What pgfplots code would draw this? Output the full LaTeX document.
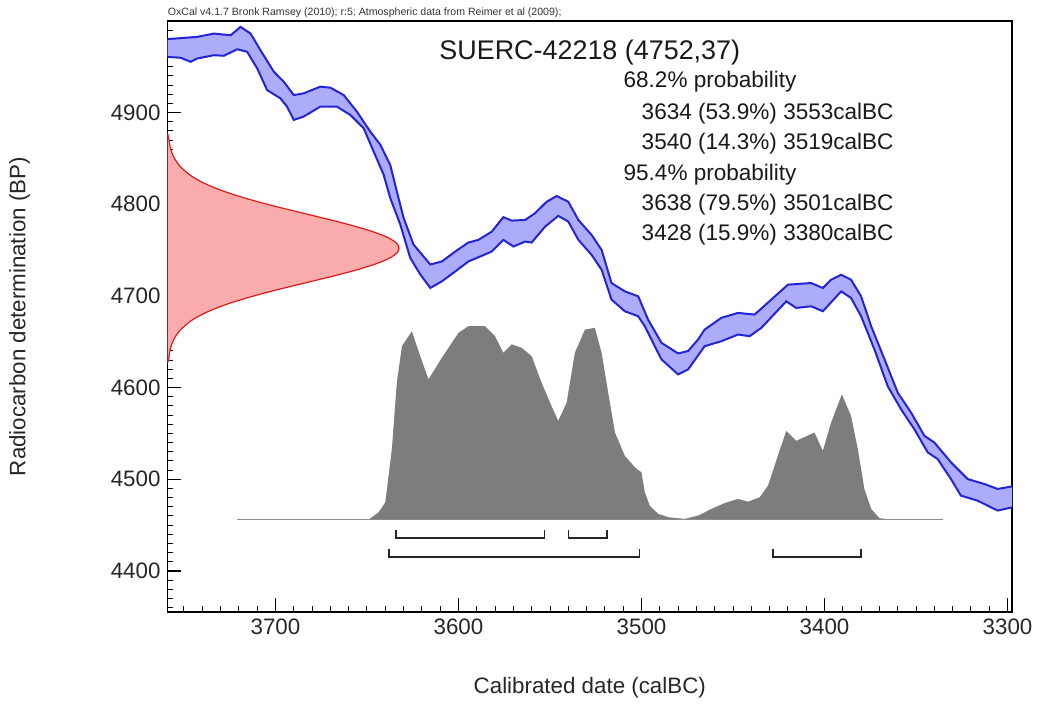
\documentclass[border=0pt]{standalone}
\usepackage{fontspec}
\setmainfont{Liberation Sans}
\usepackage{pgfplots}
\usepackage{pgfplotstable}
\usepgfplotslibrary{fillbetween}
\pgfplotsset{compat=1.18}

\definecolor{bandfill}{RGB}{172,172,250}
\definecolor{bandline}{RGB}{35,35,215}
\definecolor{likefill}{RGB}{250,172,172}
\definecolor{likeline}{RGB}{225,25,25}
\definecolor{probfill}{RGB}{125,125,125}

% calibration curve, upper and lower 1-sigma edges (calBC, BP)
\pgfplotstableread{
x y
3760.0 4980.0
3742.8 4982.6
3733.7 4986.2
3724.5 4984.4
3719.1 4993.5
3713.6 4986.2
3708.2 4968.0
3700.9 4944.6
3695.5 4933.7
3690.0 4919.1
3684.6 4921.0
3675.5 4928.3
3670.0 4927.2
3662.7 4919.1
3655.5 4901.0
3648.2 4879.3
3642.7 4864.8
3637.3 4843.0
3633.7 4814.1
3630.0 4785.1
3624.6 4756.1
3615.4 4734.3
3609.1 4737.6
3601.8 4748.5
3594.6 4758.3
3589.1 4761.2
3581.8 4770.2
3575.5 4785.9
3570.9 4782.2
3563.6 4782.9
3558.2 4790.2
3551.8 4802.8
3546.4 4809.0
3540.0 4802.8
3534.5 4782.9
3527.3 4766.6
3521.8 4750.3
3516.4 4714.1
3509.1 4705.0
3501.8 4699.6
3496.4 4674.2
3489.1 4648.9
3480.0 4637.3
3474.5 4640.0
3469.1 4652.5
3465.5 4663.3
3456.4 4676.1
3447.3 4681.5
3438.2 4679.7
3429.1 4696.0
3420.0 4712.3
3407.3 4714.1
3400.9 4708.7
3396.4 4717.7
3390.9 4723.1
3385.5 4717.7
3380.0 4699.6
3374.5 4666.9
3367.2 4630.8
3360.0 4594.6
3352.7 4572.8
3345.4 4547.4
3340.0 4540.2
3330.9 4518.5
3321.8 4500.3
3312.7 4494.9
3305.4 4489.5
3297.0 4492.4
}\curveup

\pgfplotstableread{
x y
3760.0 4960.9
3751.8 4959.8
3746.4 4955.4
3742.8 4959.0
3733.7 4962.6
3728.2 4962.0
3720.9 4969.1
3715.5 4966.3
3710.0 4948.2
3704.6 4924.6
3697.3 4915.5
3693.7 4906.5
3690.0 4892.0
3684.6 4895.7
3675.5 4906.5
3666.4 4906.5
3659.1 4897.4
3651.8 4882.9
3646.4 4857.6
3640.9 4832.2
3637.3 4806.8
3631.8 4777.8
3626.4 4741.6
3620.9 4723.5
3615.4 4708.7
3609.1 4715.9
3601.8 4726.7
3594.6 4737.6
3588.2 4743.0
3581.8 4748.5
3575.5 4761.2
3570.0 4753.9
3563.6 4759.3
3560.0 4758.3
3552.7 4775.6
3545.5 4787.3
3540.0 4781.1
3534.5 4761.2
3527.3 4744.9
3521.8 4728.6
3516.4 4696.0
3509.1 4683.3
3501.8 4677.8
3498.2 4666.9
3489.1 4630.8
3480.0 4614.4
3474.5 4619.9
3465.5 4645.2
3456.4 4650.6
3447.3 4657.9
3440.9 4656.1
3434.5 4665.2
3420.9 4694.1
3415.5 4686.9
3407.3 4688.7
3400.9 4683.3
3390.9 4705.0
3385.5 4697.8
3380.0 4677.8
3372.7 4641.6
3365.5 4601.7
3358.2 4576.4
3350.9 4554.6
3343.6 4529.3
3338.2 4522.1
3330.9 4500.3
3325.5 4482.2
3316.4 4476.7
3305.4 4465.9
3297.0 4469.6
}\curvelo

\begin{document}
\begin{tikzpicture}
\begin{axis}[
    width=423.5pt, height=296.5pt,
    scale only axis,
    x dir=reverse,
    xmin=3297.5, xmax=3759,
    ymin=4355, ymax=5000,
    xtick={3300,3400,3500,3600,3700},
    ytick={4400,4500,4600,4700,4800,4900},
    minor xtick={3300,3310,...,3750},
    minor ytick={4360,4370,...,5000},
    tick pos=left,
    tick align=inside,
    major tick length=7pt,
    minor tick length=3pt,
    tick style={black, line width=0.8pt},
    minor tick style={black, line width=0.5pt},
    axis line style={line width=0.9pt},
    /pgf/number format/1000 sep={},
    /pgf/number format/assume math mode=true,
    ticklabel style={font=\fontsize{11.2}{13}\selectfont, text=black!85},
    xlabel={Calibrated date (calBC)},
    ylabel={Radiocarbon determination (BP)},
    label style={font=\fontsize{11.2}{13}\selectfont, text=black!85},
    xlabel style={at={(axis description cs:0.5,-0.128)}, anchor=center},
    ylabel style={at={(axis description cs:-0.175,0.5)}, anchor=center},
    clip=true,
]
% calibration curve band
\addplot[draw=none, name path=up] table {\curveup};
\addplot[draw=none, name path=lo] table {\curvelo};
\addplot[bandfill] fill between[of=up and lo];
\addplot[bandline, line width=1pt] table {\curveup};
\addplot[bandline, line width=1pt] table {\curvelo};

% radiocarbon measurement 4752 +- 37
\addplot[fill=likefill, draw=likeline, line width=0.6pt, smooth] coordinates {
(3759.5,4624) (3758.8,4628) (3758.3,4632) (3757.5,4642) (3755.7,4652)
(3752.4,4662) (3746.8,4672) (3742.8,4677) (3737.9,4682) (3732.0,4687)
(3725.1,4692) (3717.1,4697) (3708.2,4702) (3698.6,4707) (3688.4,4712)
(3678.1,4717) (3667.9,4722) (3658.3,4727) (3649.7,4732) (3642.5,4737)
(3637.0,4742) (3633.6,4747) (3632.5,4752) (3633.6,4757) (3637.0,4762)
(3642.5,4767) (3649.7,4772) (3658.3,4777) (3667.9,4782) (3678.1,4787)
(3688.4,4792) (3698.6,4797) (3708.2,4802) (3717.1,4807) (3725.1,4812)
(3732.0,4817) (3737.9,4822) (3742.8,4827) (3746.8,4832) (3752.4,4842)
(3755.7,4852) (3757.5,4862) (3758.3,4872) (3758.8,4876) (3759.5,4880)
};

% calibrated probability distribution
\addplot[fill=probfill, draw=none] coordinates {
(3721.1,4456) (3649.1,4456) (3643.6,4464.1) (3640.0,4474.9) (3636.4,4532.9)
(3633.7,4605.4) (3630.9,4645.2) (3625.5,4661.5) (3620.9,4634.3) (3616.4,4609.0)
(3609.1,4632.6) (3600.0,4659.8) (3594.6,4667.0) (3585.5,4667.0) (3580.0,4656.1)
(3575.5,4638.0) (3570.9,4647.1) (3565.5,4643.5) (3560.0,4634.3) (3554.6,4605.4)
(3550.0,4583.7) (3545.5,4563.7) (3540.9,4583.7) (3536.4,4638.0) (3530.9,4663.4)
(3525.5,4665.2) (3521.8,4638.0) (3518.2,4594.6) (3514.5,4551.0) (3509.1,4525.6)
(3503.6,4513.0) (3500.0,4507.6) (3498.2,4485.9) (3495.5,4471.3) (3490.9,4462.3)
(3485.5,4458.7) (3476.4,4456.8) (3469.1,4460.4) (3461.8,4467.7) (3454.5,4474.2)
(3447.3,4478.6) (3441.8,4475.6) (3435.4,4480.4) (3430.9,4493.0) (3425.5,4525.6)
(3420.9,4552.8) (3415.5,4541.9) (3405.5,4551.0) (3400.9,4531.1) (3396.4,4561.9)
(3390.5,4592.7) (3385.5,4569.1) (3381.8,4532.9) (3378.2,4489.4) (3374.5,4467.7)
(3370.0,4457.6) (3363.6,4456) (3335.4,4456)
} -- cycle;
\addplot[black!45, line width=0.4pt] coordinates {(3721.1,4456) (3335.4,4456)};

% 68.2% and 95.4% ranges
\addplot[black!85, line width=0.8pt] coordinates {(3634,4445) (3634,4436) (3553,4436) (3553,4445)};
\addplot[black!85, line width=0.8pt] coordinates {(3540,4445) (3540,4436) (3519,4436) (3519,4445)};
\addplot[black!85, line width=0.8pt] coordinates {(3638,4424) (3638,4415) (3501,4415) (3501,4424)};
\addplot[black!85, line width=0.8pt] coordinates {(3428,4424) (3428,4415) (3380,4415) (3380,4424)};

% texts
\node[anchor=center, inner sep=0pt, text height=9.7pt, text depth=0pt,
      font=\fontsize{13.5}{15}\selectfont, text=black!90]
  at (rel axis cs:0.5,0.951) {SUERC-42218 (4752,37)};
\begin{scope}[every node/.style={anchor=west, inner sep=0pt, text height=8.1pt,
      text depth=0pt, font=\fontsize{11.3}{13}\selectfont, text=black!90}]
\node at (rel axis cs:0.5396,0.9005) {68.2\% probability};
\node at (rel axis cs:0.561,0.8471) {3634 (53.9\%) 3553calBC};
\node at (rel axis cs:0.561,0.7965) {3540 (14.3\%) 3519calBC};
\node at (rel axis cs:0.5396,0.7432) {95.4\% probability};
\node at (rel axis cs:0.561,0.6926) {3638 (79.5\%) 3501calBC};
\node at (rel axis cs:0.561,0.642) {3428 (15.9\%) 3380calBC};
\end{scope}
\end{axis}
\node[anchor=south west, inner sep=0pt, yshift=1.6pt,
      font=\fontsize{5.3}{6}\selectfont, text=black!80]
  at (current axis.north west)
  {OxCal v4.1.7 Bronk Ramsey (2010); r:5; Atmospheric data from Reimer et al (2009);};
\path ([xshift=-84pt,yshift=-44pt]current axis.south west)
  rectangle ([xshift=12pt,yshift=10.5pt]current axis.north east);
\end{tikzpicture}
\end{document}
